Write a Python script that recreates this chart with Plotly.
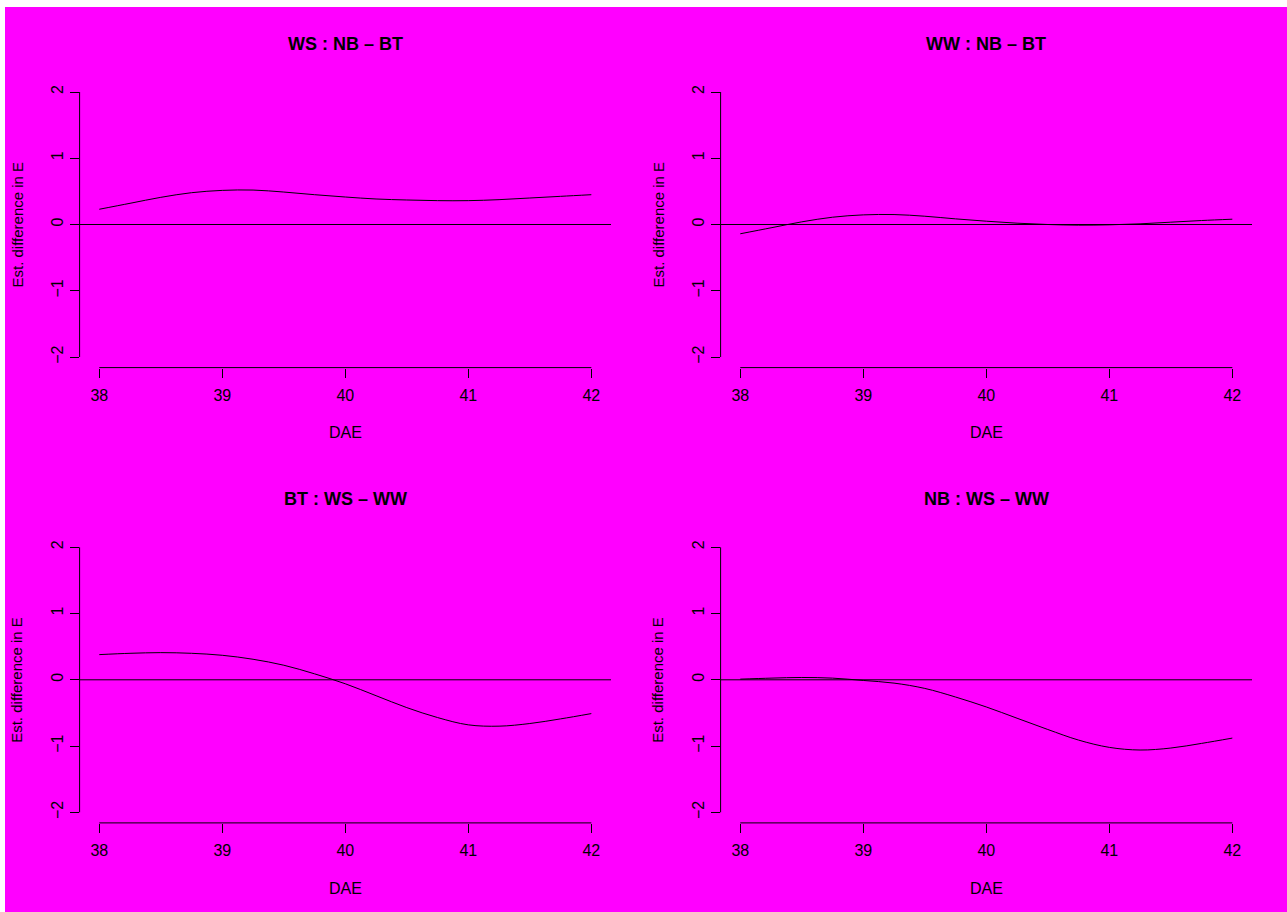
import plotly.graph_objects as go

# Days after emergence (evaluation grid)
dae = [38.0, 38.25, 38.5, 38.75, 39.0, 39.25, 39.5, 39.75, 40.0,
       40.25, 40.5, 40.75, 41.0, 41.25, 41.5, 41.75, 42.0]

# Estimated differences in E for each contrast
ws_nb_bt = [0.23, 0.32, 0.41, 0.48, 0.515, 0.52, 0.49, 0.45, 0.415,
            0.385, 0.37, 0.36, 0.36, 0.375, 0.40, 0.425, 0.45]
ww_nb_bt = [-0.14, -0.05, 0.04, 0.11, 0.145, 0.15, 0.125, 0.085, 0.05,
            0.02, 0.0, -0.01, -0.005, 0.01, 0.035, 0.06, 0.08]
bt_ws_ww = [0.38, 0.40, 0.41, 0.40, 0.37, 0.31, 0.22, 0.09, -0.06,
            -0.24, -0.42, -0.57, -0.68, -0.70, -0.66, -0.59, -0.51]
nb_ws_ww = [0.01, 0.025, 0.035, 0.025, -0.01, -0.05, -0.13, -0.26, -0.41,
            -0.58, -0.75, -0.91, -1.02, -1.06, -1.03, -0.96, -0.88]

titles = ["WS : NB \u2013 BT", "WW : NB \u2013 BT",
          "BT : WS \u2013 WW", "NB : WS \u2013 WW"]
series = [ws_nb_bt, ww_nb_bt, bt_ws_ww, nb_ws_ww]

x_ticks = [38, 39, 40, 41, 42]
y_ticks = [-2, -1, 0, 1, 2]
y_ticktext = ["\u22122", "\u22121", "0", "1", "2"]
x_label = "DAE"
y_label = "Est. difference in E"

W, H = 1287, 912
FONT = "Liberation Sans, Arial, Helvetica, sans-serif"
BG = "#FF00FF"


def fx(px):
    return px / W


def fy(py):
    return 1 - py / H


# plot-region pixel boxes (left, right, top, bottom) for a 2x2 layout
col_x = [(79.6, 611.0), (720.6, 1252.0)]
row_y = [(81.4, 367.6), (536.7, 822.9)]

fig = go.Figure()
shapes = [dict(type="rect", xref="paper", yref="paper",
               x0=fx(5), x1=1, y0=0, y1=fy(7),
               fillcolor=BG, line=dict(width=0), layer="below")]
annotations = []
layout = {}

for i in range(4):
    r, c = divmod(i, 2)
    n = i + 1
    xa = "x" if n == 1 else f"x{n}"
    ya = "y" if n == 1 else f"y{n}"
    xl, xr = col_x[c]
    yt, yb = row_y[r]

    fig.add_trace(go.Scatter(
        x=dae, y=series[i], mode="lines", xaxis=xa, yaxis=ya,
        line=dict(color="black", width=1, shape="spline", smoothing=1),
        showlegend=False, hoverinfo="skip"))

    layout["xaxis" if n == 1 else f"xaxis{n}"] = dict(
        domain=[fx(xl), fx(xr)], anchor=ya, range=[37.84, 42.16],
        tickvals=x_ticks, ticktext=[str(v) for v in x_ticks],
        ticks="outside", ticklen=9, tickwidth=1, tickcolor="black",
        ticklabelstandoff=4,
        showline=False, showgrid=False, zeroline=False,
        tickfont=dict(family=FONT, size=16, color="black"))
    layout["yaxis" if n == 1 else f"yaxis{n}"] = dict(
        domain=[fy(yb), fy(yt)], anchor=xa, range=[-2.16, 2.16],
        tickvals=y_ticks, ticktext=y_ticktext, tickangle=-90,
        ticks="outside", ticklen=9, tickwidth=1, tickcolor="black",
        ticklabelstandoff=0,
        showline=False, showgrid=False, zeroline=False,
        tickfont=dict(family=FONT, size=16, color="black"))

    # axis lines spanning only the tick range
    shapes.append(dict(type="line", xref=xa, yref=f"{ya} domain",
                       x0=x_ticks[0], x1=x_ticks[-1], y0=0, y1=0,
                       line=dict(color="black", width=1)))
    shapes.append(dict(type="line", xref=f"{xa} domain", yref=ya,
                       x0=0, x1=0, y0=y_ticks[0], y1=y_ticks[-1],
                       line=dict(color="black", width=1)))
    # horizontal reference at zero
    shapes.append(dict(type="line", xref=f"{xa} domain", yref=ya,
                       x0=0, x1=1, y0=0, y1=0,
                       line=dict(color="black", width=1)))

    cx = (xl + xr) / 2
    dy = row_y[r][0] - row_y[0][0]
    annotations.append(dict(text=f"<b>{titles[i]}</b>", xref="paper", yref="paper",
                            x=fx(cx), y=fy(43.5 + dy), showarrow=False,
                            xanchor="center", yanchor="middle",
                            font=dict(family=FONT, size=18, color="black")))
    annotations.append(dict(text=x_label, xref="paper", yref="paper",
                            x=fx(cx), y=fy(433 + dy), showarrow=False,
                            xanchor="center", yanchor="middle",
                            font=dict(family=FONT, size=16, color="black")))
    annotations.append(dict(text=y_label, xref="paper", yref="paper",
                            x=fx(17 + (xl - col_x[0][0])), y=fy((yt + yb) / 2),
                            showarrow=False, textangle=-90,
                            xanchor="center", yanchor="middle",
                            font=dict(family=FONT, size=15, color="black")))

fig.update_layout(
    width=W, height=H, margin=dict(l=0, r=0, t=0, b=0),
    paper_bgcolor="white", plot_bgcolor="rgba(0,0,0,0)",
    shapes=shapes, annotations=annotations, **layout)

fig.write_html("out.html")
